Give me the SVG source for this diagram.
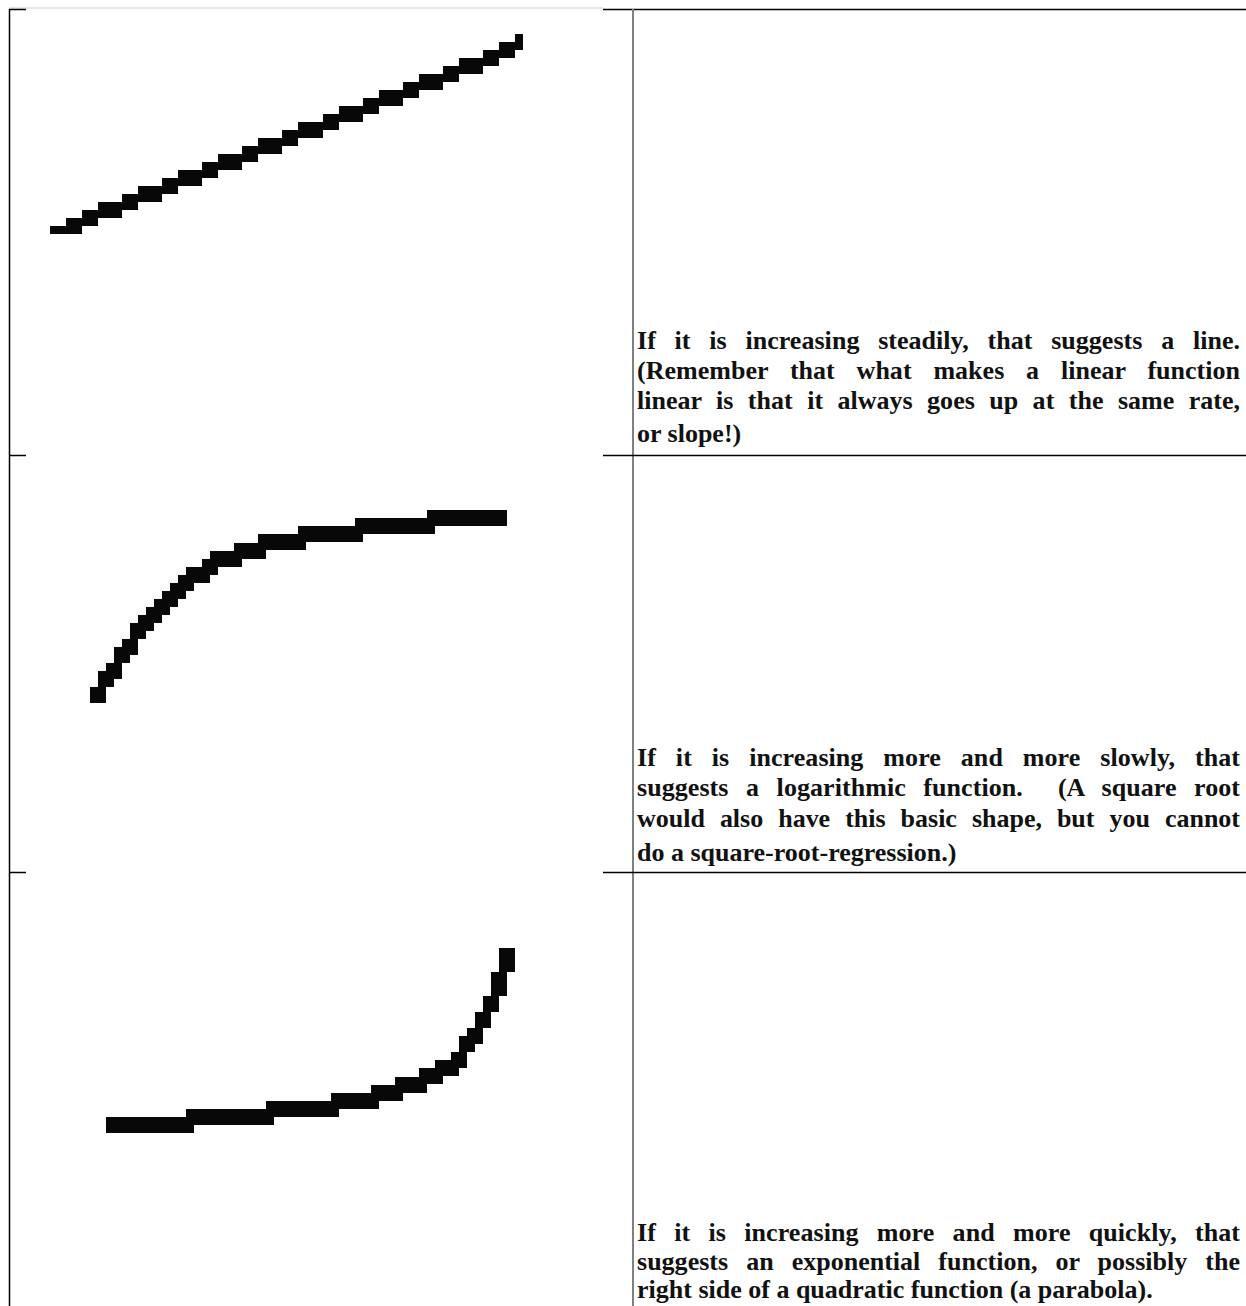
<svg xmlns="http://www.w3.org/2000/svg" width="1246" height="1306" viewBox="0 0 1246 1306">
<style>
.t{font-family:"Liberation Serif","Times New Roman",serif;font-weight:bold;font-size:26px;fill:#111}
.rule{stroke:#000;stroke-width:1.5;fill:none}
.div{stroke:#808080;stroke-width:2;fill:none}
.top{stroke:#dcdcdc;stroke-width:1.5;fill:none}
.curve{fill:#080808;shape-rendering:crispEdges}
</style>
<rect width="1246" height="1306" fill="#fff"/>
<g id="connectors">
<line class="top" x1="9" y1="8" x2="603" y2="8"/>
<line class="rule" x1="9" y1="9.5" x2="26" y2="9.5"/>
<line class="rule" x1="603" y1="9.5" x2="1246" y2="9.5"/>
<line class="rule" x1="9.5" y1="9" x2="9.5" y2="1306"/>
<line class="div" x1="633" y1="9" x2="633" y2="1306"/>
<line class="rule" x1="9" y1="455.5" x2="26" y2="455.5"/>
<line class="rule" x1="603" y1="455.5" x2="1246" y2="455.5"/>
<line class="rule" x1="9" y1="872.5" x2="26" y2="872.5"/>
<line class="rule" x1="603" y1="872.5" x2="1246" y2="872.5"/>
</g>
<g id="row-linear">
<path class="curve" d="M50 226h32v8h-32z M66 218h32v8h-32z M82 210h40v8h-40z M98 202h40v8h-40z M122 194h40v8h-40z M138 186h40v8h-40z M162 178h40v8h-40z M178 170h40v8h-40z M202 162h40v8h-40z M218 154h40v8h-40z M242 146h40v8h-40z M258 138h40v8h-40z M282 130h41v8h-41z M298 122h41v8h-41z M323 114h40v8h-40z M339 106h40v8h-40z M363 98h40v8h-40z M379 90h40v8h-40z M403 82h40v8h-40z M419 74h40v8h-40z M443 66h40v8h-40z M459 58h40v8h-40z M483 50h32v8h-32z M499 42h24v8h-24z M515 34h8v8h-8z"/>
<text class="t" x="637" y="349" word-spacing="12.2" textLength="603" lengthAdjust="spacing">If it is increasing steadily, that suggests a line.</text>
<text class="t" x="637" y="379" word-spacing="15.3" textLength="603" lengthAdjust="spacing">(Remember that what makes a linear function</text>
<text class="t" x="637" y="409" word-spacing="7.9" textLength="603" lengthAdjust="spacing">linear is that it always goes up at the same rate,</text>
<text class="t" x="637" y="442">or slope!)</text>
</g>
<g id="row-logarithmic">
<path class="curve" d="M427 510h80v16h-80z M355 518h80v16h-80z M298 526h65v16h-65z M258 534h48v16h-48z M234 543h32v16h-32z M210 551h32v16h-32z M202 559h16v16h-16z M186 567h24v16h-24z M178 575h16v16h-16z M170 583h16v16h-16z M162 591h16v16h-16z M154 599h16v16h-16z M146 607h16v16h-16z M138 615h16v16h-16z M130 623h16v16h-16z M122 639h16v16h-16z M114 647h16v16h-16z M106 663h16v16h-16z M98 671h16v16h-16z M90 687h16v16h-16z"/>
<text class="t" x="637" y="766" word-spacing="13.4" textLength="603" lengthAdjust="spacing">If it is increasing more and more slowly, that</text>
<text class="t" x="637" y="796" word-spacing="11" textLength="603" lengthAdjust="spacing" xml:space="preserve">suggests a logarithmic function.  (A square root</text>
<text class="t" x="637" y="827" word-spacing="8.5" textLength="603" lengthAdjust="spacing">would also have this basic shape, but you cannot</text>
<text class="t" x="637" y="861">do a square-root-regression.)</text>
</g>
<g id="row-exponential">
<path class="curve" d="M106 1117h88v16h-88z M186 1109h88v16h-88z M266 1101h73v16h-73z M331 1093h48v16h-48z M371 1085h32v16h-32z M395 1077h32v16h-32z M419 1068h24v16h-24z M435 1060h24v16h-24z M451 1052h16v16h-16z M459 1036h16v16h-16z M467 1028h16v16h-16z M475 1012h16v16h-16z M483 996h16v16h-16z M491 972h16v24h-16z M499 948h16v24h-16z"/>
<text class="t" x="637" y="1241" word-spacing="11.7" textLength="603" lengthAdjust="spacing">If it is increasing more and more quickly, that</text>
<text class="t" x="637" y="1270" word-spacing="11.5" textLength="603" lengthAdjust="spacing">suggests an exponential function, or possibly the</text>
<text class="t" x="637" y="1298">right side of a quadratic function (a parabola).</text>
</g>
</svg>
